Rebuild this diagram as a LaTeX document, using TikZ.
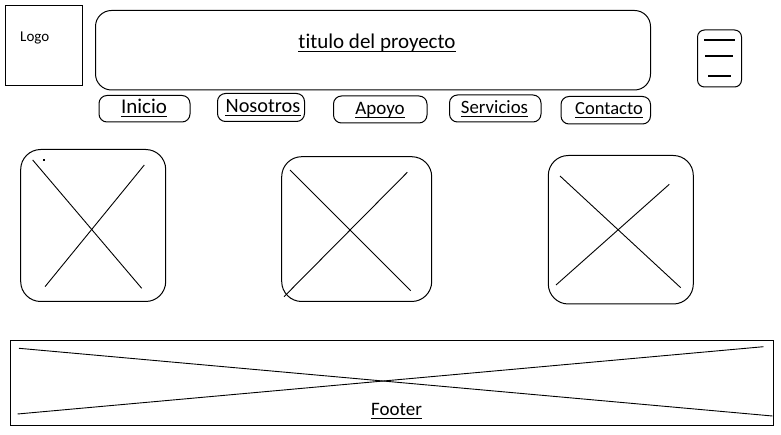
\documentclass[tikz,border=0pt]{standalone}
\usepackage{fontspec}
\setmainfont{Carlito}[Ligatures={NoCommon,NoContextual}]
\newcommand\wbox[6]{%
  \node[boxst, rounded corners=#6, minimum width={(#4-#2)*1pt}, minimum height={(#5-#3)*1pt}]
    (#1) at ({(#2+#4)/2},{(#3+#5)/2}) {};}
\newcommand\ultext[5]{% name, x, baseline y, size, text
  \node[txt, font=\fontsize{#4}{#4}\selectfont] (#1) at (#2,#3) {#5};
  \draw[ulst] ([yshift=-2.7pt]#1.base west) -- ([yshift=-2.7pt]#1.base east);}
\begin{document}
\begin{tikzpicture}[x=1pt,y=-1pt,
  boxst/.style={draw=black, line width=1pt, inner sep=0pt},
  txt/.style={anchor=base, inner sep=0pt, text=black},
  ulst/.style={line width=0.9pt, black},
  cross/.style={line width=0.9pt, black},
  burger/.style={line width=2.6pt, black}]
\fill[white] (0,0) rectangle (781,435);
\useasboundingbox (0,0) rectangle (781,435);

% logo
\wbox{logo}{5}{6}{82}{86}{0pt}
\node[txt, anchor=base west, font=\fontsize{15}{15}\selectfont] (logot) at (20,41.5) {Logo};

% title
\wbox{title}{95.5}{10.5}{650.5}{90}{16pt}
\ultext{titlet}{377}{48.5}{21}{titulo del proyecto}

% nav
\wbox{n1}{99}{95.5}{190}{122}{8pt}
\ultext{n1t}{144}{114}{21}{Inicio}
\wbox{n2}{217.5}{93.5}{304.5}{121.5}{8pt}
\ultext{n2t}{263}{112.5}{20.3}{Nosotros}
\wbox{n3}{333.5}{96}{427}{123}{8pt}
\ultext{n3t}{380}{114.5}{19}{Apoyo}
\wbox{n4}{449.5}{95}{541}{122}{8pt}
\ultext{n4t}{494.5}{114}{18.8}{Servicios}
\wbox{n5}{561}{96.5}{650.5}{124}{8pt}
\ultext{n5t}{609}{115}{18.5}{Contacto}

% hamburger
\wbox{menu}{697.5}{30}{741.5}{87}{7pt}
\coordinate (m1a) at (704,40); \coordinate (m1b) at (735,40);
\coordinate (m2a) at (705,56); \coordinate (m2b) at (733,56);
\coordinate (m3a) at (708,76); \coordinate (m3b) at (731,76);
\draw[burger] (m1a) -- (m1b);
\draw[burger] (m2a) -- (m2b);
\draw[burger] (m3a) -- (m3b);

% image boxes
\wbox{b1}{20.7}{149.5}{165.7}{301.5}{20pt}
\draw[cross] (32.7,160) -- (141.7,288.3);
\draw[cross] (144.3,165) -- (45,286.7);
\fill[black] (43.3,159) rectangle (45.3,161);

\wbox{b2}{281.7}{156.7}{431.7}{301.5}{20pt}
\draw[cross] (290,170) -- (410.7,290.7);
\draw[cross] (407.3,172.3) -- (284,296.7);

\wbox{b3}{548.3}{155.5}{693.3}{304}{20pt}
\draw[cross] (560,176) -- (680.7,287.7);
\draw[cross] (669.3,184.3) -- (556,285);

% footer
\wbox{foot}{10.5}{340.5}{773.5}{425.5}{0pt}
\draw[cross] (19,348.3) -- (772.5,416);
\draw[cross] (17.5,414) -- (763.5,346.7);
\ultext{foott}{396.5}{415.5}{19}{Footer}
\end{tikzpicture}
\end{document}
